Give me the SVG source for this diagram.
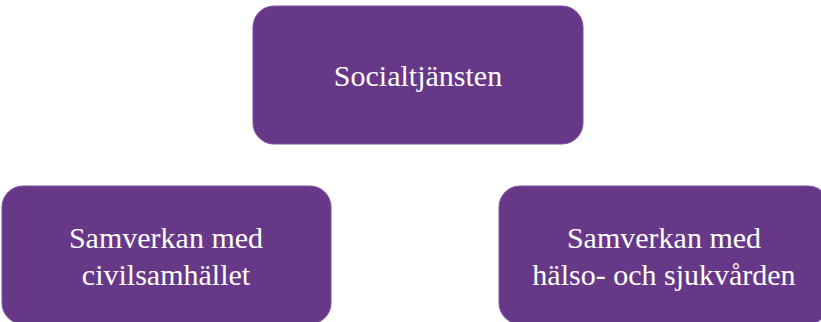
<svg xmlns="http://www.w3.org/2000/svg" width="821" height="322" viewBox="0 0 821 322">
<style>
.box{fill:#673888;stroke:#7d52a3;stroke-width:1}
.lbl{font-family:"Liberation Serif","Times New Roman",serif;font-size:30px;fill:#ffffff;text-anchor:middle}
</style>
<rect width="821" height="322" fill="#ffffff"/>
<g id="connectors"></g>
<g id="socialtjansten">
<rect class="box" x="253" y="6" width="330" height="138" rx="21" ry="21"/>
<text class="lbl" x="418" y="86">Socialtjänsten</text>
</g>
<g id="civilsamhallet">
<rect class="box" x="2" y="186" width="329" height="138" rx="21" ry="21"/>
<text class="lbl" x="166" y="248">Samverkan med</text>
<text class="lbl" x="166" y="285">civilsamhället</text>
</g>
<g id="halso-sjukvarden">
<rect class="box" x="499" y="186" width="330" height="138" rx="21" ry="21"/>
<text class="lbl" x="664" y="248">Samverkan med</text>
<text class="lbl" x="664" y="285">hälso- och sjukvården</text>
</g>
</svg>
